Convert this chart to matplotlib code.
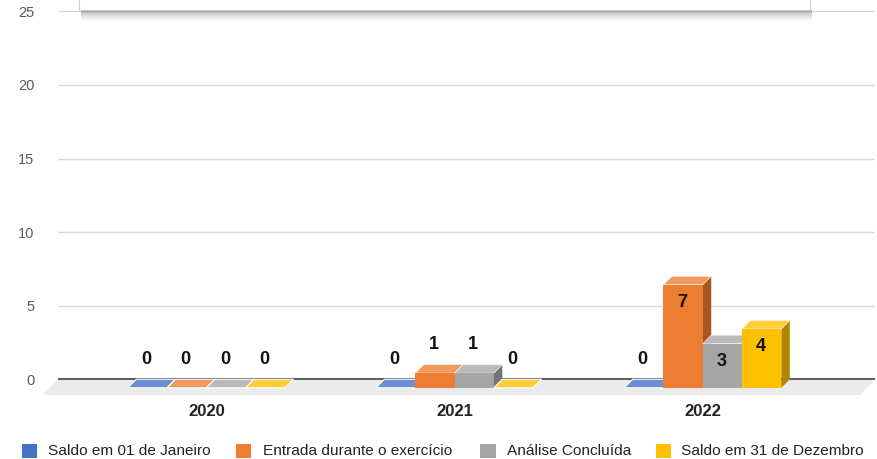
import matplotlib
matplotlib.use("Agg")
import matplotlib.pyplot as plt
from matplotlib import font_manager as fm
from matplotlib.patches import Polygon, Rectangle

# ---------------- data ----------------
years = ["2020", "2021", "2022"]
series_names = ["Saldo em 01 de Janeiro", "Entrada durante o exercício",
                "Análise Concluída", "Saldo em 31 de Dezembro"]
saldo_janeiro = [0, 0, 0]
entrada_exercicio = [0, 1, 7]
analise_concluida = [0, 1, 3]
saldo_dezembro = [0, 0, 4]
y_ticks = [0, 5, 10, 15, 20, 25]

series_values = [saldo_janeiro, entrada_exercicio, analise_concluida, saldo_dezembro]
front_colors = ["#4472C4", "#ED7D31", "#A5A5A5", "#FFC000"]
top_colors = ["#6B8FD6", "#F19A5E", "#BABABA", "#FFCD38"]
side_colors = ["#2F5597", "#A8581F", "#747474", "#B38600"]


def has_font(name):
    try:
        fm.findfont(name, fallback_to_default=False)
        return True
    except Exception:
        return False


narrow = "Liberation Sans Narrow" if has_font("Liberation Sans Narrow") else "Liberation Sans"
base = "Liberation Sans" if has_font("Liberation Sans") else "DejaVu Sans"

W, H = 878, 459
fig = plt.figure(figsize=(W / 100, H / 100), dpi=100)
ax = fig.add_axes([58 / W, 1 - 400 / H, (875 - 58) / W, (400 - 11.3) / H])
ax.set_xlim(-0.5975, 2.694)
ax.set_ylim(-(400 - 379.3) / 14.72, 25)
for s in ax.spines.values():
    s.set_visible(False)
ax.set_xticks([])
ax.set_yticks(y_ticks)
ax.set_yticklabels([str(t) for t in y_ticks], fontfamily=narrow, fontsize=10.5, color="#5a5a5a")
ax.tick_params(axis="y", length=0, pad=23.5 * 0.72)

# pixel -> data conversions
x0, x1 = ax.get_xlim()
y0, y1 = ax.get_ylim()
px_x = (875 - 58) / (x1 - x0)
px_y = (400 - 11.3) / (y1 - y0)
dx = 8.5 / px_x
dy = 8.5 / px_y
fdx = 15 / px_x
fdy = 15.7 / px_y

# floor
ax.add_patch(Polygon([(x0, 0), (x1, 0), (x1 - fdx, -fdy), (x0 - fdx, -fdy)],
                     closed=True, facecolor="#ebebeb", edgecolor="none",
                     zorder=0.4, clip_on=False))
# grid
ax.hlines(y_ticks[1:], x0, x1, colors="#d9d9d9", linewidth=1, zorder=0.5)
ax.hlines(0, x0, x1, colors="#5a5a5a", linewidth=1.4, zorder=1)

bw = 0.1583
n = len(series_values)
z = 2
for gi, yr in enumerate(years):
    for si in range(n):
        v = series_values[si][gi]
        xl = gi + (si - n / 2) * bw
        xr = xl + bw
        if v > 0:
            # side
            ax.add_patch(Polygon([(xr, -dy), (xr + dx, 0), (xr + dx, v), (xr, v - dy)],
                                 closed=True, facecolor=side_colors[si], edgecolor="none",
                                 zorder=z, clip_on=False))
            # top
            ax.add_patch(Polygon([(xl, v - dy), (xr, v - dy), (xr + dx, v), (xl + dx, v)],
                                 closed=True, facecolor=top_colors[si], edgecolor="white",
                                 linewidth=0.4, zorder=z + 0.1, clip_on=False))
            # front
            ax.bar(xl, v, width=bw, bottom=-dy, align="edge", color=front_colors[si],
                   edgecolor="none", zorder=z + 0.2, clip_on=False)
        else:
            ax.add_patch(Polygon([(xl, -dy), (xr, -dy), (xr + dx, 0), (xl + dx, 0)],
                                 closed=True, facecolor=top_colors[si], edgecolor="white",
                                 linewidth=0.8, zorder=z, clip_on=False))
        # label
        cx = (xl + xr) / 2 - 1 / px_x
        if v * px_y > 30:
            ly = v - dy - 18 / px_y
        else:
            ly = v + 20 / px_y
        ax.text(cx, ly, str(v), ha="center", va="center", fontsize=13,
                fontweight="bold", fontfamily=base, color="#111111", zorder=50)
        z += 1
    ax.text(gi, -(411 - 379.3) / px_y, yr, ha="center", va="center", fontsize=12,
            fontweight="bold", fontfamily=base, color="#222222", clip_on=False)

# title box remnant with shadow at the top
for k in range(12):
    a = 0.30 * (1 - k / 12) ** 1.5
    fig.patches.append(Rectangle(((79 + 2) / W, 1 - (10 + k + 1) / H), (731) / W, 1 / H,
                                 transform=fig.transFigure, facecolor="#000000",
                                 alpha=a, edgecolor="none", zorder=3))
fig.patches.append(Rectangle((79 / W, 1 - 10 / H), (810 - 79) / W, 12 / H,
                             transform=fig.transFigure, facecolor="white",
                             edgecolor="#d0d0d0", linewidth=0.8, zorder=4))

# legend
sq_x = [21.7, 236.5, 480.5, 656]
tx_x = [48.3, 263, 507, 681]
texts = []
for i, name in enumerate(series_names):
    fig.patches.append(Rectangle((sq_x[i] / W, 1 - 458 / H), 15 / W, 14 / H,
                                 transform=fig.transFigure, facecolor=front_colors[i],
                                 edgecolor="none"))
    texts.append(fig.text(tx_x[i] / W, 1 - 451 / H, name, ha="left", va="center",
                          fontsize=12, fontfamily=narrow, color="#222222"))
fig.canvas.draw()
w0 = texts[0].get_window_extent().width
fs = 12 * 163 / w0
for t in texts:
    t.set_fontsize(fs)

fig.savefig("out.png", dpi=100)
